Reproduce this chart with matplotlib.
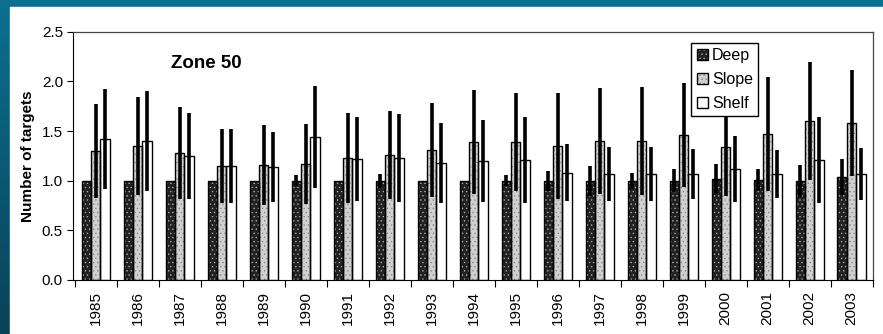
import numpy as np
import matplotlib
matplotlib.use("Agg")
import matplotlib.pyplot as plt
from matplotlib.patches import Rectangle
from matplotlib.colors import LinearSegmentedColormap

plt.rcParams["font.family"] = ["Liberation Sans", "DejaVu Sans"]
plt.rcParams["hatch.linewidth"] = 0.4

years = [str(y) for y in range(1985, 2004)]

deep = [1.0, 1.0, 1.0, 1.0, 1.0, 1.0, 1.0, 1.0, 1.0, 1.0,
        1.0, 1.0, 1.0, 1.0, 1.0, 1.02, 1.01, 1.0, 1.04]
deep_err = [0, 0, 0, 0, 0, 0.055, 0, 0.07, 0, 0,
            0.055, 0.10, 0.15, 0.08, 0.115, 0.15, 0.11, 0.16, 0.18]

slope = [1.30, 1.35, 1.28, 1.15, 1.16, 1.17, 1.23, 1.26, 1.31, 1.39,
         1.39, 1.35, 1.40, 1.40, 1.46, 1.34, 1.47, 1.60, 1.58]
slope_err = [0.47, 0.49, 0.46, 0.37, 0.40, 0.40, 0.45, 0.44, 0.47, 0.52,
             0.49, 0.53, 0.53, 0.54, 0.52, 0.49, 0.57, 0.595, 0.53]

shelf = [1.42, 1.40, 1.25, 1.15, 1.14, 1.44, 1.22, 1.23, 1.18, 1.20,
         1.21, 1.08, 1.07, 1.07, 1.07, 1.12, 1.07, 1.21, 1.07]
shelf_err = [0.50, 0.50, 0.43, 0.37, 0.355, 0.51, 0.42, 0.44, 0.405, 0.41,
             0.43, 0.285, 0.27, 0.27, 0.25, 0.335, 0.24, 0.43, 0.26]

fig = plt.figure(figsize=(8.83, 3.34), dpi=100)

# slide background: teal gradient with a white panel
bg = fig.add_axes([0, 0, 1, 1], zorder=-10)
grad = np.linspace(0, 1, 256).reshape(-1, 1)
teal = LinearSegmentedColormap.from_list("teal", ["#0c7090", "#0a4258"])
bg.imshow(grad, aspect="auto", cmap=teal, extent=[0, 1, 0, 1])
bg.add_patch(Rectangle((10 / 883, 0), 1, 1 - 7 / 334, color="white",
                       transform=bg.transAxes))
bg.set_xlim(0, 1)
bg.set_ylim(0, 1)
bg.axis("off")

ax = fig.add_axes([0.0823, 0.1617, 0.9060, 0.7433])
x = np.arange(len(years)) + 0.5
w = 0.225

styles = [
    ("Deep", deep, deep_err, -w, "#222222", "#bbbbbb", "...."),
    ("Slope", slope, slope_err, 0, "#d0d0d0", "#808080", "...."),
    ("Shelf", shelf, shelf_err, w, "white", "white", None),
]
handles = []
for name, vals, err, off, face, hcol, hatch in styles:
    fill = ax.bar(x + off, vals, w, color=face, edgecolor=hcol,
                  linewidth=0, hatch=hatch, zorder=2)
    edge = ax.bar(x + off, vals, w, fill=False, edgecolor="black",
                  linewidth=1.0, zorder=2.5)
    ax.errorbar(x + off, vals, yerr=err, fmt="none", ecolor="black",
                elinewidth=2.6, capsize=0, zorder=3)
    handles.append((fill.patches[0], edge.patches[0]))

ax.set_xlim(-0.05, 19)
ax.set_ylim(0, 2.5)
ax.set_yticks(np.arange(0, 2.51, 0.5))
ax.set_yticklabels([f"{v:.1f}" for v in np.arange(0, 2.51, 0.5)], fontsize=11)
ax.set_xticks(np.arange(0, 20))
ax.set_xticklabels([])
ax.set_xticks(x, minor=True)
ax.set_xticklabels(years, minor=True, rotation=90, fontsize=11)
ax.tick_params(axis="x", which="major", length=5, direction="out")
ax.tick_params(axis="x", which="minor", length=0, pad=8)
ax.tick_params(axis="y", length=4, pad=3)
for s in ["top", "right"]:
    ax.spines[s].set_color("#444444")
    ax.spines[s].set_linewidth(0.9)

ax.set_ylabel("Number of targets", fontsize=11, fontweight="bold", labelpad=5)
ax.text(0.123, 0.874, "Zone 50", transform=ax.transAxes, fontsize=13.5,
        fontweight="bold", ha="left", va="center")

leg = ax.legend(handles, ["Deep", "Slope", "Shelf"], loc="upper left",
                bbox_to_anchor=(0.773, 0.956), borderaxespad=0, fontsize=11.5,
                fancybox=False, framealpha=1, edgecolor="black",
                handlelength=0.7, handleheight=0.7, handletextpad=0.25,
                labelspacing=0.55, borderpad=0.35)
leg.set_zorder(5)
leg.get_frame().set_linewidth(1.0)

fig.savefig("out.png", dpi=100)
